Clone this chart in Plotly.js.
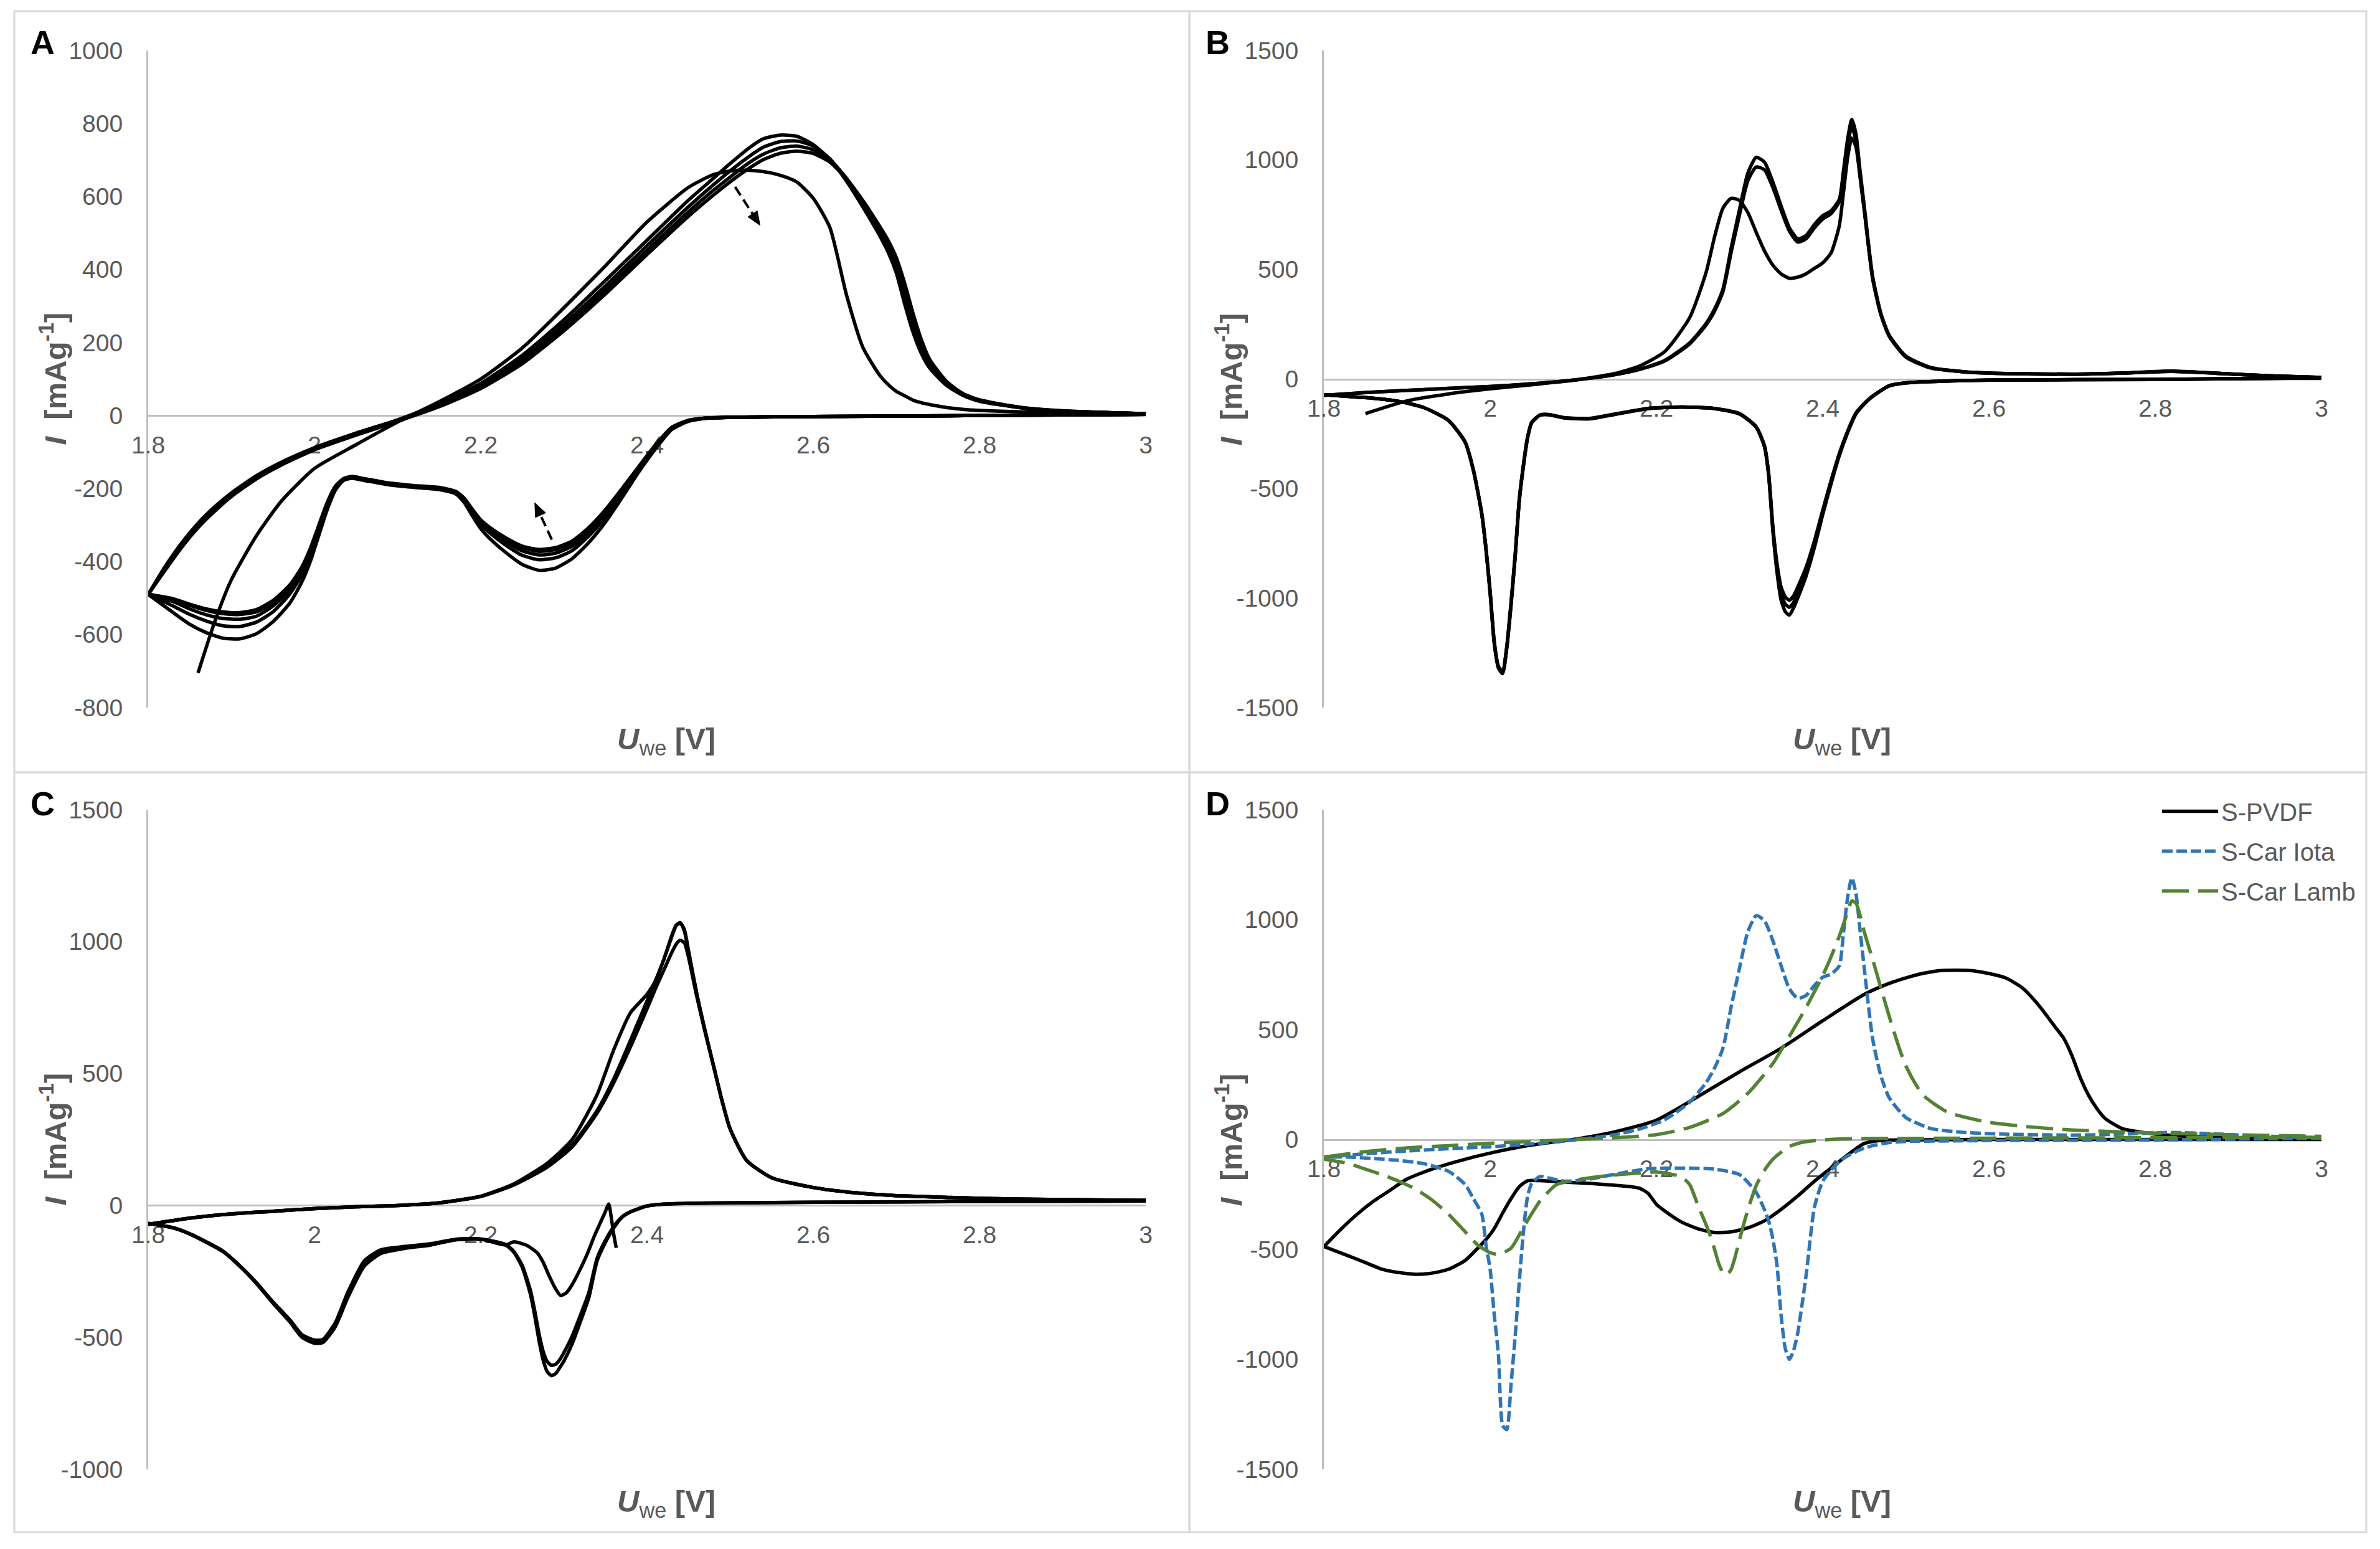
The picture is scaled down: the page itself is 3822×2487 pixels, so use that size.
<!DOCTYPE html>
<html><head><meta charset="utf-8">
<script src="https://cdn.plot.ly/plotly-3.0.1.min.js"></script>
<style>html,body{margin:0;padding:0;background:#fff}#chart{width:3822px;height:2487px}</style>
</head><body><div id="chart"></div>
<script>
// ---------------- DATA ----------------
const X_TICKS = [1.8, 2, 2.2, 2.4, 2.6, 2.8, 3];
const X_LABELS = ['1.8', '2', '2.2', '2.4', '2.6', '2.8', '3'];
const A_YTICKS = [-800, -600, -400, -200, 0, 200, 400, 600, 800, 1000];
const A_YLABELS = ['-800', '-600', '-400', '-200', '0', '200', '400', '600', '800', '1000'];
const B_YTICKS = [-1500, -1000, -500, 0, 500, 1000, 1500];
const B_YLABELS = ['-1500', '-1000', '-500', '0', '500', '1000', '1500'];
const C_YTICKS = [-1000, -500, 0, 500, 1000, 1500];
const C_YLABELS = ['-1000', '-500', '0', '500', '1000', '1500'];

// Panel A (S-PVDF, 5 cycles): anodic sweep
const A_oxV = [1.80,1.82,1.84,1.86,1.88,1.90,1.93,1.96,2.00,2.05,2.10,2.15,2.20,2.25,2.30,2.35,2.40,2.45,2.48,2.50,2.52,2.54,2.56,2.58,2.60,2.62,2.64,2.66,2.68,2.69,2.70,2.71,2.72,2.73,2.74,2.76,2.78,2.80,2.85,2.90,3.00];
const A_ox1 = [null,null,null,-705,-565,-450,-330,-235,-145,-80,-18,38,100,185,295,410,530,625,660,670,672,668,658,640,595,515,330,185,110,85,66,54,42,35,30,22,17,14,10,8,4];
const A_ox2 = [-490,-415,-350,-295,-250,-212,-165,-128,-88,-48,-12,32,88,165,262,370,480,590,650,690,728,758,768,765,742,702,642,570,492,448,390,305,228,170,130,83,55,39,21,12,5];
const A_ox3 = [-490,-420,-355,-300,-255,-216,-168,-130,-90,-50,-14,28,82,155,250,355,465,572,632,670,705,735,750,752,738,703,648,578,500,458,405,330,250,185,138,86,56,40,21,12,5];
const A_ox4 = [-490,-422,-358,-303,-258,-219,-171,-133,-92,-52,-15,26,78,148,240,343,452,558,617,653,688,716,733,738,728,700,650,584,510,470,420,348,265,198,147,90,58,41,22,12,5];
const A_ox5 = [-490,-425,-362,-307,-262,-222,-174,-136,-94,-54,-16,24,74,142,232,333,441,546,604,640,673,701,718,724,718,694,648,588,518,480,432,362,280,208,154,94,60,43,22,13,5];
// Panel A cathodic sweep
const A_redV = [3.00,2.80,2.60,2.50,2.47,2.45,2.43,2.41,2.39,2.37,2.35,2.33,2.31,2.29,2.27,2.25,2.23,2.21,2.20,2.19,2.18,2.17,2.15,2.12,2.09,2.06,2.045,2.035,2.025,2.015,2.005,1.995,1.985,1.97,1.95,1.93,1.91,1.89,1.87,1.85,1.83,1.80];
const A_red1 = [3,0,-3,-5,-8,-16,-38,-92,-155,-225,-292,-348,-392,-418,-424,-408,-375,-335,-310,-275,-238,-215,-203,-197,-190,-178,-172,-178,-205,-260,-330,-400,-455,-515,-565,-598,-612,-610,-595,-572,-540,-490];
const A_red2 = [3,0,-3,-5,-8,-15,-36,-88,-150,-215,-278,-330,-370,-390,-395,-383,-355,-320,-298,-266,-232,-212,-200,-195,-188,-176,-170,-176,-200,-250,-318,-385,-436,-490,-538,-566,-578,-576,-563,-545,-522,-490];
const A_red3 = [3,0,-3,-5,-7,-14,-34,-85,-146,-210,-270,-320,-358,-377,-382,-371,-345,-312,-292,-262,-230,-210,-199,-194,-187,-175,-169,-175,-198,-245,-310,-375,-425,-478,-522,-550,-558,-556,-546,-530,-510,-490];
const A_red4 = [3,0,-3,-5,-7,-14,-33,-83,-143,-205,-263,-312,-349,-367,-372,-362,-338,-307,-288,-259,-228,-209,-198,-193,-186,-174,-168,-174,-196,-242,-305,-368,-418,-470,-512,-538,-545,-543,-534,-520,-503,-490];
const A_red5 = [3,0,-3,-5,-7,-13,-32,-81,-140,-200,-258,-307,-344,-362,-367,-358,-335,-305,-286,-257,-226,-208,-197,-192,-185,-173,-167,-173,-194,-240,-302,-364,-414,-465,-507,-532,-540,-538,-530,-517,-502,-490];

// Panel B (S-Car Iota, 3 cycles)
const B_oxV = [1.80,1.85,1.90,1.95,2.00,2.05,2.10,2.15,2.18,2.21,2.24,2.26,2.27,2.28,2.29,2.30,2.31,2.32,2.33,2.34,2.35,2.36,2.37,2.38,2.39,2.40,2.41,2.42,2.425,2.43,2.435,2.44,2.445,2.45,2.46,2.47,2.48,2.50,2.53,2.57,2.62,2.70,2.76,2.82,2.88,2.94,3.00];
const B_ox1 = [null,-158,-100,-68,-45,-26,-6,25,60,125,280,490,650,780,825,815,760,670,585,520,480,460,465,480,505,530,575,700,850,1010,1100,1060,920,770,465,295,195,100,50,33,25,22,27,35,25,14,7];
const B_ox2 = [-75,-62,-52,-43,-34,-22,-5,20,45,85,165,255,320,410,600,775,940,1012,990,900,790,690,640,655,705,745,768,820,950,1095,1185,1120,950,790,470,300,200,105,52,33,25,22,27,36,25,14,7];
const B_ox3 = [-75,-62,-52,-43,-34,-22,-5,20,44,82,160,248,310,398,580,750,905,968,955,875,770,675,625,640,690,730,755,810,935,1075,1150,1090,930,775,460,295,198,104,52,33,25,22,27,35,25,14,7];
const B_redV = [3.00,2.80,2.60,2.50,2.48,2.46,2.45,2.44,2.43,2.42,2.41,2.40,2.39,2.38,2.37,2.365,2.36,2.355,2.35,2.345,2.34,2.335,2.33,2.32,2.30,2.27,2.23,2.19,2.15,2.12,2.09,2.07,2.06,2.05,2.045,2.04,2.035,2.03,2.025,2.02,2.015,2.01,2.005,2.00,1.995,1.99,1.98,1.97,1.95,1.92,1.89,1.86,1.83,1.80];
const B_red1 = [5,-2,-5,-18,-32,-80,-115,-160,-245,-350,-480,-620,-770,-900,-1000,-1045,-1078,-1062,-1010,-880,-690,-440,-310,-220,-160,-135,-128,-135,-162,-182,-178,-163,-165,-200,-270,-400,-560,-820,-1040,-1230,-1345,-1320,-1210,-980,-780,-620,-420,-290,-190,-130,-102,-88,-80,-72];
const B_red2 = [5,-2,-5,-18,-31,-78,-112,-155,-238,-340,-465,-600,-740,-860,-950,-990,-1010,-995,-950,-840,-670,-430,-305,-218,-158,-134,-128,-134,-160,-180,-177,-162,-164,-198,-265,-392,-550,-805,-1025,-1220,-1335,-1312,-1200,-970,-772,-615,-418,-288,-189,-130,-102,-88,-80,-72];
const B_red3 = [5,-2,-5,-18,-31,-79,-113,-158,-242,-345,-472,-610,-755,-880,-975,-1020,-1042,-1028,-980,-860,-680,-435,-308,-219,-159,-135,-128,-135,-161,-181,-178,-163,-165,-199,-268,-396,-555,-812,-1032,-1225,-1340,-1316,-1205,-975,-776,-618,-419,-289,-190,-130,-102,-88,-80,-72];

// Panel C (S-Car Lamb, 3 cycles + initial segment from OCV)
const C_oxV = [1.80,1.85,1.90,1.95,2.00,2.05,2.10,2.15,2.20,2.24,2.28,2.31,2.34,2.36,2.38,2.40,2.41,2.42,2.43,2.435,2.44,2.445,2.45,2.46,2.47,2.48,2.49,2.50,2.52,2.55,2.60,2.65,2.70,2.80,2.90,3.00];
const C_ox1 = [-72,-48,-32,-22,-12,-5,0,10,35,82,160,250,420,590,730,800,850,930,1025,1062,1072,1040,960,800,660,530,400,290,170,105,68,48,37,27,22,19];
const C_ox2 = [-72,-48,-32,-22,-12,-5,0,10,35,80,150,230,360,480,625,775,850,930,1020,1060,1070,1045,965,800,660,530,400,290,170,105,68,48,37,27,22,19];
const C_ox3 = [-72,-48,-32,-22,-12,-5,0,10,34,78,145,222,350,465,600,745,820,890,960,990,1005,995,940,790,655,528,400,290,170,105,68,48,37,27,22,19];
const C_redV = [3.00,2.80,2.60,2.50,2.45,2.42,2.40,2.38,2.37,2.36,2.35,2.34,2.33,2.32,2.31,2.30,2.295,2.29,2.285,2.28,2.275,2.27,2.265,2.26,2.25,2.24,2.23,2.20,2.17,2.14,2.11,2.08,2.06,2.04,2.025,2.01,2.00,1.985,1.97,1.95,1.93,1.91,1.89,1.87,1.85,1.83,1.80];
const C_initV = [2.363,2.360,2.357,2.354,2.349,2.337,2.328,2.319,2.310,2.303,2.296,2.289,2.282,2.275,2.268,2.255,2.240];
const C_initI = [-161,-110,-45,5,-30,-114,-185,-246,-300,-331,-341,-310,-265,-215,-180,-151,-138];
const C_red1 = [null,null,null,null,null,null,null,null,null,null,null,null,null,null,null,null,null,null,null,null,null,null,null,null,null,null,-150,-128,-130,-148,-158,-175,-222,-342,-455,-515,-518,-496,-437,-368,-294,-229,-174,-139,-108,-85,-68];
const C_red2 = [17,15,12,10,8,5,-2,-25,-45,-85,-140,-210,-350,-440,-525,-590,-615,-638,-645,-630,-585,-510,-420,-340,-235,-178,-150,-128,-130,-150,-162,-182,-230,-350,-460,-520,-522,-500,-440,-370,-295,-230,-175,-140,-108,-85,-68];
const C_red3 = [17,15,12,10,8,5,-2,-24,-43,-80,-132,-200,-330,-415,-495,-558,-585,-602,-606,-592,-552,-485,-400,-325,-228,-175,-148,-127,-128,-145,-155,-168,-210,-330,-445,-508,-510,-490,-432,-365,-292,-228,-173,-138,-107,-84,-68];

// Panel D (comparison)
const D_pvdf_ox = [-487,-410,-340,-280,-230,-180,-135,-100,-62,-25,0,35,88,195,308,415,540,660,710,735,755,768,770,768,755,735,690,610,510,460,380,280,200,140,95,50,35,25,12,6,2];
const D_pvdf_red = [0,0,0,-2,-4,-18,-70,-130,-190,-257,-318,-370,-402,-420,-423,-406,-375,-325,-295,-245,-222,-215,-208,-200,-194,-187,-188,-215,-270,-335,-405,-455,-495,-550,-590,-608,-613,-605,-590,-560,-530,-487];
const D_iota_ox = [-80,-65,-52,-42,-33,-20,-3,22,48,90,170,260,325,415,605,780,945,1018,995,905,790,685,642,655,700,738,752,790,940,1100,1190,1120,950,780,460,290,190,100,50,32,24,20,24,32,24,14,7];
const D_iota_red = [5,-2,-5,-9,-14,-28,-40,-55,-75,-100,-140,-190,-310,-620,-880,-960,-1000,-950,-800,-570,-450,-370,-320,-240,-160,-135,-130,-133,-158,-180,-190,-175,-168,-200,-260,-420,-650,-900,-1120,-1320,-1300,-980,-800,-590,-480,-340,-270,-205,-145,-110,-95,-87,-80,-80];
const D_lamb_ox = [-80,-55,-38,-28,-17,-9,0,8,22,55,118,210,345,470,600,745,830,925,1035,1085,1075,1020,945,820,690,560,440,335,205,125,78,57,43,29,21,14];
const D_lamb_red = [10,8,6,5,4,2,-2,-10,-18,-32,-58,-90,-140,-210,-320,-455,-530,-590,-615,-605,-565,-500,-440,-390,-300,-205,-170,-148,-155,-165,-180,-205,-280,-400,-495,-522,-515,-480,-420,-340,-275,-225,-190,-160,-135,-110,-89];

const SERIES_NAMES = ['S-PVDF', 'S-Car Iota', 'S-Car Lamb'];

// ---------------- LAYOUT ----------------
const W = 3822, H = 2487;
const FONT = 'Liberation Sans, Arial, Helvetica, sans-serif';
const GRAY = '#595959';
const AXLINE = '#bfbfbf';
const BLACK = '#000000', BLUE = '#2e75b6', GREEN = '#548235';
const LW = 5.5;

// plot boxes in pixels: [left, right, top, bottom]
const panels = [
  {key:'A', box:[238,1840,81,1136],  yr:[-800,1000],  yt:A_YTICKS, yl:A_YLABELS, xa:'x',  ya:'y',  frame:[23,1910,18,1240]},
  {key:'B', box:[2126,3728,81,1136], yr:[-1500,1500], yt:B_YTICKS, yl:B_YLABELS, xa:'x2', ya:'y2', frame:[1910,3800,18,1240]},
  {key:'C', box:[238,1840,1300,2359],yr:[-1000,1500], yt:C_YTICKS, yl:C_YLABELS, xa:'x3', ya:'y3', frame:[23,1910,1240,2460]},
  {key:'D', box:[2126,3728,1300,2359],yr:[-1500,1500],yt:B_YTICKS, yl:B_YLABELS, xa:'x4', ya:'y4', frame:[1910,3800,1240,2460]}
];

function line(xs, ys, p, color, dash, opts) {
  opts = opts || {};
  return {
    type:'scatter', mode:'lines', x:xs, y:ys, xaxis:p.xa, yaxis:p.ya,
    line:{color:color, width:LW, dash:dash || 'solid', shape:'spline', smoothing:0.6},
    showlegend: !!opts.legend, name: opts.name || '', legendgroup: opts.group,
    connectgaps: !!opts.connect, hoverinfo:'skip'
  };
}

const [pA, pB, pC, pD] = panels;
const traces = [];
// Panel A
[A_ox1, A_ox2, A_ox3, A_ox4, A_ox5].forEach(y => traces.push(line(A_oxV, y, pA, BLACK)));
[A_red1, A_red2, A_red3, A_red4, A_red5].forEach(y => traces.push(line(A_redV, y, pA, BLACK)));
// Panel B
[B_ox1, B_ox2, B_ox3].forEach(y => traces.push(line(B_oxV, y, pB, BLACK)));
[B_red1, B_red2, B_red3].forEach(y => traces.push(line(B_redV, y, pB, BLACK)));
// Panel C
traces.push(line(C_initV.concat(C_redV), C_initI.concat(C_red1), pC, BLACK, 'solid', {connect:true}));
[C_red2, C_red3].forEach(y => traces.push(line(C_redV, y, pC, BLACK)));
[C_ox1, C_ox2, C_ox3].forEach(y => traces.push(line(C_oxV, y, pC, BLACK)));
// Panel D
const DASH_BLUE = '17px,6px', DASH_GREEN = '43px,15px';
traces.push(line(A_oxV, D_pvdf_ox, pD, BLACK, 'solid', {legend:true, name:SERIES_NAMES[0], group:'g1'}));
traces.push(line(A_redV, D_pvdf_red, pD, BLACK, 'solid', {group:'g1'}));
traces.push(line(B_oxV, D_iota_ox, pD, BLUE, DASH_BLUE, {legend:true, name:SERIES_NAMES[1], group:'g2'}));
traces.push(line(B_redV, D_iota_red, pD, BLUE, DASH_BLUE, {group:'g2'}));
traces.push(line(C_oxV, D_lamb_ox, pD, GREEN, DASH_GREEN, {legend:true, name:SERIES_NAMES[2], group:'g3'}));
traces.push(line(C_redV, D_lamb_red, pD, GREEN, DASH_GREEN, {group:'g3'}));

const layout = {
  width: W, height: H, margin:{l:0, r:0, t:0, b:0},
  paper_bgcolor:'#ffffff', plot_bgcolor:'rgba(0,0,0,0)',
  font:{family:FONT, color:GRAY},
  showlegend: true,
  legend:{x:3467/W, y:1-1270/H, xanchor:'left', yanchor:'top', font:{family:FONT, size:40, color:GRAY},
          itemwidth:90, tracegroupgap:9, bgcolor:'rgba(0,0,0,0)', traceorder:'grouped'},
  shapes:[], annotations:[]
};

const tickfont = {family:FONT, size:39, color:GRAY};
panels.forEach((p, i) => {
  const [l, r, t, b] = p.box;
  const xd = [l/W, r/W], yd = [1-b/H, 1-t/H];
  const zeroPos = yd[0] + (0 - p.yr[0])/(p.yr[1]-p.yr[0])*(yd[1]-yd[0]);
  const sx = i === 0 ? '' : String(i+1);
  layout['xaxis'+sx] = {domain:xd, range:[1.8, 3], anchor:'free', position:zeroPos,
    tickmode:'array', tickvals:X_TICKS, ticktext:X_LABELS, ticks:'', showgrid:false, zeroline:false,
    showline:true, linecolor:AXLINE, linewidth:3, tickfont:tickfont, layer:'below traces',
    ticklabelstandoff:12, fixedrange:true};
  layout['yaxis'+sx] = {domain:yd, range:p.yr, anchor:p.xa,
    tickmode:'array', tickvals:p.yt, ticktext:p.yl, ticks:'', showgrid:false, zeroline:false,
    showline:true, linecolor:AXLINE, linewidth:3, tickfont:tickfont, layer:'below traces',
    ticklabelstandoff:30, fixedrange:true};
  // panel frame
  const [fl, fr, ft, fb] = p.frame;
  layout.shapes.push({type:'rect', xref:'paper', yref:'paper', x0:fl/W, x1:fr/W, y0:1-fb/H, y1:1-ft/H,
    line:{color:'#d9d9d9', width:3}, fillcolor:'rgba(0,0,0,0)', layer:'below'});
  // panel letter
  layout.annotations.push({xref:'paper', yref:'paper', x:(fl+24)/W, y:1-(ft+50)/H, xanchor:'left', yanchor:'middle',
    text:'<b>'+p.key+'</b>', showarrow:false, font:{family:FONT, size:54, color:'#000000'}});
  // axis titles
  layout.annotations.push({xref:'paper', yref:'paper', x:((l+r)/2+31)/W, y:1-(b+54)/H, xanchor:'center', yanchor:'middle',
    text:'<b><i>U</i></b><sub>we</sub> <b>[V]</b>', showarrow:false, font:{family:FONT, size:49, color:GRAY}});
  layout.annotations.push({xref:'paper', yref:'paper', x:(l-153)/W, y:1-((t+b)/2)/H, xanchor:'center', yanchor:'middle',
    textangle:-90, text:'<b><i>I</i></b>\u00a0 <b>[mAg<sup>-1</sup>]</b>', showarrow:false, font:{family:FONT, size:49, color:GRAY}});
});

// trend arrows in panel A: dashed shaft + filled triangular head (built in pixel space of panel A)
const ARROWS = [
  {tail:[2.506, 626], head:[2.536, 521]},
  {tail:[2.2855, -340], head:[2.265, -239]}
];
const pxPerX = (pA.box[1]-pA.box[0])/(3-1.8);
const pxPerY = (pA.box[3]-pA.box[2])/(pA.yr[1]-pA.yr[0]);
ARROWS.forEach(a => {
  // direction in screen pixels (y down)
  const dx = (a.head[0]-a.tail[0])*pxPerX, dy = -(a.head[1]-a.tail[1])*pxPerY;
  const len = Math.hypot(dx, dy), ux = dx/len, uy = dy/len;
  const headLen = 22, headHalf = 9;
  const toData = (px, py) => [a.head[0] + px/pxPerX, a.head[1] - py/pxPerY];
  const base = toData(-ux*headLen, -uy*headLen);
  const b1 = toData(-ux*headLen - uy*headHalf, -uy*headLen + ux*headHalf);
  const b2 = toData(-ux*headLen + uy*headHalf, -uy*headLen - ux*headHalf);
  layout.shapes.push({type:'line', xref:'x', yref:'y', x0:a.tail[0], y0:a.tail[1], x1:base[0], y1:base[1],
    line:{color:'#000000', width:4, dash:'16px,8px'}});
  layout.shapes.push({type:'path', xref:'x', yref:'y',
    path:'M'+a.head[0]+','+a.head[1]+' L'+b1[0]+','+b1[1]+' L'+b2[0]+','+b2[1]+' Z',
    fillcolor:'#000000', line:{color:'#000000', width:1}});
});

Plotly.newPlot('chart', traces, layout, {staticPlot:true, displayModeBar:false});
</script>
</body></html>
